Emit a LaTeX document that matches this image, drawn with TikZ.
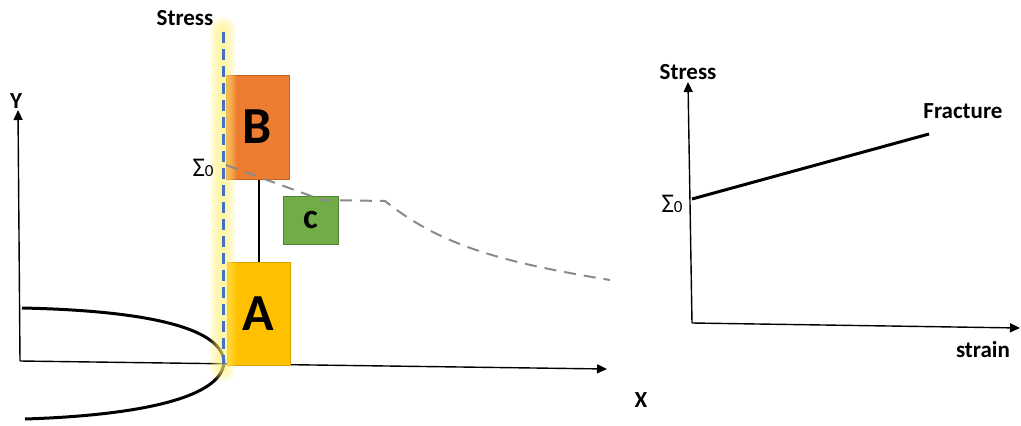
\documentclass[tikz,border=0pt]{standalone}
\usepackage{fontspec}
\setmainfont{Carlito}
\usetikzlibrary{arrows.meta}
\definecolor{boxB}{HTML}{ED7D31}
\definecolor{boxBline}{HTML}{C8611E}
\definecolor{boxA}{HTML}{FFC000}
\definecolor{boxAline}{HTML}{D9A200}
\definecolor{boxC}{HTML}{70AD47}
\definecolor{boxCline}{HTML}{548235}
\definecolor{planeblue}{HTML}{4472C4}
\definecolor{glow}{HTML}{FFF176}
\definecolor{envgrey}{HTML}{8A8A8A}
\tikzset{
  blockbox/.style={draw, line width=1pt, inner sep=0pt, text=black,
    font=\bfseries\fontsize{52}{52}\selectfont},
  axisline/.style={line width=1.4pt, -{Triangle[length=10pt,width=9pt]}},
  label/.style={font=\bfseries\fontsize{23}{23}\selectfont, inner sep=0pt},
  sigmalabel/.style={font=\fontsize{27}{27}\selectfont, inner sep=0pt},
  thickcurve/.style={line width=3pt},
  greydash/.style={envgrey, line width=2pt, dash pattern=on 12pt off 8pt},
  bluedash/.style={planeblue, line width=3pt, dash pattern=on 11pt off 6pt},
}
\newcommand{\sigzero}{Σ{\fontsize{17}{17}\selectfont 0}}
\begin{document}
\begin{tikzpicture}[x=1pt,y=-1pt]
\useasboundingbox (0,0) rectangle (1021,426);

% ---------- left picture: crack tip with zones ----------
\coordinate (O) at (20,361);
\coordinate (Ytip) at (18,110);
\coordinate (Xtip) at (607,369);
\draw[axisline] (O) -- (Ytip);
\draw[axisline] (O) -- (Xtip);
\node[label] (ylab) at (16,101) {Y};
\node[label] (xlab) at (641,400) {X};

% blunted crack profile
\coordinate (tipL) at (22,308);
\coordinate (tipV) at (224,362);
\coordinate (tipR) at (25,419);
\draw[thickcurve] (tipL) .. controls (120,310) and (222,322) .. (tipV)
  .. controls (222,402) and (120,416) .. (tipR);

% zones
\node[blockbox, fill=boxA, draw=boxAline, minimum width=63pt, minimum height=103pt] (A) at (258.5,313.5) {A};
\node[blockbox, fill=boxB, draw=boxBline, minimum width=63pt, minimum height=104pt] (B) at (257.5,127) {B};
\node[blockbox, fill=boxC, draw=boxCline, minimum width=55pt, minimum height=48pt,
      font=\bfseries\fontsize{35}{35}\selectfont] (C) at (310.5,220) {c};
\draw[line width=1.4pt] (B.south -| 259,0) -- (A.north -| 259,0);

% glowing plane: soft halo built from stacked translucent strokes
\foreach \w in {26,22,18,14,10,6}
  \draw[glow, line width=\w pt, opacity=0.16, line cap=round] (223,30) -- (223,368);
\draw[bluedash] (223,32) -- (223,364);

% stress envelope
\coordinate (s0) at (226,165);
\draw[greydash] (s0) -- (322,200) -- (385,201)
  .. controls (440,245) and (500,262) .. (610,280);

\node[sigmalabel] (sigL) at (203,168) {\sigzero};
\node[label] (stressL) at (185,18) {Stress};

% ---------- right picture: stress-strain ----------
\coordinate (O2) at (692,323);
\coordinate (Stip) at (688,82);
\coordinate (Etip) at (1020,328);
\draw[axisline] (O2) -- (Stip);
\draw[axisline] (O2) -- (Etip);
\node[label] (stressR) at (688,72) {Stress};
\node[label] (strainR) at (983,350) {strain};
\node[label] (fracR) at (963,111) {Fracture};
\node[sigmalabel] (sigR) at (672,204) {\sigzero};
\coordinate (f0) at (692,199);
\coordinate (f1) at (929,134);
\draw[line width=3pt] (f0) -- (f1);
\end{tikzpicture}
\end{document}
